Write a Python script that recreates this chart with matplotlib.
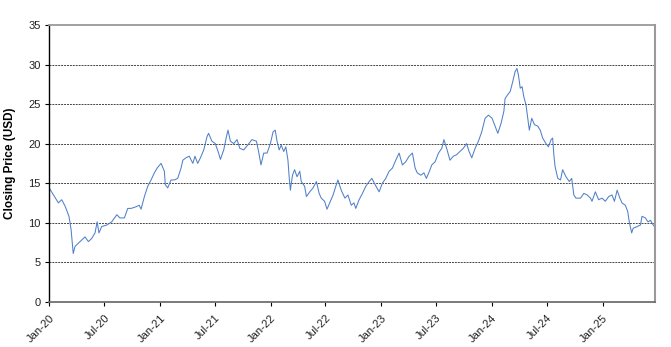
import matplotlib
matplotlib.use("Agg")
import matplotlib.pyplot as plt
import pandas as pd

plt.rcParams["font.family"] = ["Liberation Sans", "DejaVu Sans"]

dates = [
    "2020-01-02", "2020-01-31", "2020-02-11", "2020-02-22", "2020-02-27", "2020-03-06",
    "2020-03-13", "2020-03-17", "2020-03-20", "2020-03-26", "2020-04-06", "2020-04-17",
    "2020-04-28", "2020-05-09", "2020-05-20", "2020-05-31", "2020-06-07", "2020-06-13",
    "2020-06-22", "2020-07-09", "2020-07-25", "2020-08-11", "2020-08-21", "2020-09-05",
    "2020-09-16", "2020-09-27", "2020-10-13", "2020-10-24", "2020-10-30", "2020-11-10",
    "2020-11-21", "2020-12-02", "2020-12-13", "2020-12-22",
    "2021-01-04", "2021-01-15", "2021-01-18", "2021-01-26", "2021-02-06", "2021-02-17",
    "2021-02-28", "2021-03-11", "2021-03-17", "2021-03-27", "2021-04-07", "2021-04-19",
    "2021-04-26", "2021-05-05", "2021-05-14", "2021-05-25", "2021-06-05", "2021-06-10",
    "2021-06-21", "2021-07-02", "2021-07-13", "2021-07-19", "2021-07-30", "2021-08-08",
    "2021-08-13", "2021-08-21", "2021-09-01", "2021-09-12", "2021-09-21", "2021-10-04",
    "2021-10-21", "2021-10-31", "2021-11-15", "2021-11-23", "2021-11-30", "2021-12-09",
    "2021-12-20", "2021-12-31",
    "2022-01-09", "2022-01-16", "2022-01-22", "2022-01-29", "2022-02-05", "2022-02-13",
    "2022-02-20", "2022-02-27", "2022-03-03", "2022-03-07", "2022-03-14", "2022-03-21",
    "2022-03-29", "2022-04-07", "2022-04-12", "2022-04-23", "2022-04-29", "2022-05-10",
    "2022-05-21", "2022-06-01", "2022-06-10", "2022-06-17", "2022-06-28", "2022-07-06",
    "2022-07-15", "2022-07-26", "2022-08-04", "2022-08-11", "2022-08-22", "2022-09-03",
    "2022-09-13", "2022-09-24", "2022-10-03", "2022-10-09", "2022-10-20", "2022-10-31",
    "2022-11-11", "2022-11-22", "2022-12-01", "2022-12-12", "2022-12-25",
    "2023-01-05", "2023-01-16", "2023-01-27", "2023-02-07", "2023-02-18", "2023-03-01",
    "2023-03-12", "2023-03-23", "2023-04-03", "2023-04-14", "2023-04-23", "2023-04-30",
    "2023-05-12", "2023-05-22", "2023-05-30", "2023-06-08", "2023-06-17", "2023-06-28",
    "2023-07-09", "2023-07-20", "2023-07-27", "2023-08-05", "2023-08-16", "2023-08-27",
    "2023-09-07", "2023-09-18", "2023-09-29", "2023-10-10", "2023-10-18", "2023-10-27",
    "2023-11-07", "2023-11-18", "2023-11-29", "2023-12-10", "2023-12-21",
    "2024-01-02", "2024-01-10", "2024-01-21", "2024-02-01", "2024-02-10", "2024-02-14",
    "2024-02-23", "2024-03-02", "2024-03-10", "2024-03-18", "2024-03-24", "2024-03-29",
    "2024-04-04", "2024-04-10", "2024-04-16", "2024-04-23", "2024-04-29", "2024-05-04",
    "2024-05-12", "2024-05-21", "2024-06-01", "2024-06-09", "2024-06-17", "2024-06-28",
    "2024-07-06", "2024-07-15", "2024-07-20", "2024-07-24", "2024-07-28", "2024-08-06",
    "2024-08-15", "2024-08-22", "2024-09-02", "2024-09-13", "2024-09-21", "2024-09-28",
    "2024-10-05", "2024-10-20", "2024-10-31", "2024-11-11", "2024-11-22", "2024-11-27",
    "2024-12-08", "2024-12-19", "2024-12-30",
    "2025-01-10", "2025-01-21", "2025-02-01", "2025-02-09", "2025-02-18", "2025-02-27",
    "2025-03-06", "2025-03-17", "2025-03-25", "2025-03-30", "2025-04-07", "2025-04-12",
    "2025-04-25", "2025-05-06", "2025-05-11", "2025-05-22", "2025-05-31", "2025-06-08",
    "2025-06-17", "2025-06-22",
]

closing_price = [
    14.3, 12.5, 12.9, 12.1, 11.6, 10.8,
    9.1, 7.4, 6.1, 7.0, 7.4, 7.8,
    8.2, 7.6, 8.0, 8.7, 10.1, 8.7,
    9.5, 9.7, 10.1, 11.0, 10.6, 10.6,
    11.8, 11.8, 12.0, 12.2, 11.7, 13.3,
    14.6, 15.4, 16.3, 16.9,
    17.5, 16.5, 14.8, 14.4, 15.4, 15.4,
    15.6, 16.9, 17.9, 18.2, 18.4, 17.5,
    18.4, 17.5, 18.2, 19.2, 20.9, 21.3,
    20.3, 20.0, 18.8, 18.0, 19.2, 20.9,
    21.7, 20.3, 20.0, 20.5, 19.4, 19.2,
    20.0, 20.5, 20.3, 18.8, 17.3, 18.8,
    18.8, 20.0,
    21.5, 21.7, 20.3, 19.2, 19.8, 19.0,
    19.6, 17.9, 15.8, 14.1, 16.0, 16.7,
    15.8, 16.5, 15.2, 14.6, 13.3, 13.9,
    14.4, 15.2, 13.7, 13.1, 12.7, 11.7,
    12.5, 13.5, 14.6, 15.4, 14.1, 13.1,
    13.5, 12.2, 12.5, 11.8, 12.9, 13.7,
    14.6, 15.2, 15.6, 14.8, 13.9,
    15.0, 15.6, 16.5, 16.9, 17.9, 18.8,
    17.3, 17.7, 18.4, 18.8, 16.9, 16.3,
    16.0, 16.3, 15.6, 16.4, 17.3, 17.7,
    18.8, 19.4, 20.5, 19.4, 17.9, 18.4,
    18.6, 19.0, 19.4, 20.0, 19.0, 18.2,
    19.4, 20.3, 21.5, 23.2, 23.6,
    23.2, 22.4, 21.3, 22.6, 24.1, 25.7,
    26.2, 26.6, 27.8, 29.1, 29.5, 28.7,
    27.0, 27.2, 25.9, 24.9, 23.2, 21.7,
    23.2, 22.4, 22.2, 21.7, 20.7, 20.0,
    19.6, 20.5, 20.7, 18.6, 17.1, 15.6,
    15.4, 16.7, 15.8, 15.2, 15.6, 13.5,
    13.1, 13.1, 13.7, 13.5, 13.1, 12.7,
    13.9, 12.9, 13.1,
    12.7, 13.3, 13.5, 12.7, 14.1, 13.1,
    12.5, 12.2, 11.4, 10.1, 8.7, 9.3,
    9.5, 9.7, 10.8, 10.6, 10.1, 10.3,
    9.7, 9.5,
]

tick_dates = ["2020-01-01", "2020-07-01", "2021-01-01", "2021-07-01", "2022-01-01",
              "2022-07-01", "2023-01-01", "2023-07-01", "2024-01-01", "2024-07-01",
              "2025-01-01"]
tick_labels = ["Jan-20", "Jul-20", "Jan-21", "Jul-21", "Jan-22", "Jul-22",
               "Jan-23", "Jul-23", "Jan-24", "Jul-24", "Jan-25"]

x = pd.to_datetime(dates)

fig = plt.figure(figsize=(6.71, 3.47), dpi=100)
ax = fig.add_axes([49.3 / 671, 1 - 301.7 / 347, (655 - 49.3) / 671, (301.7 - 25) / 347])

ax.plot(x, closing_price, color="#5080c8", linewidth=0.75)

ax.set_xlim(pd.Timestamp("2020-01-01"), pd.Timestamp("2025-06-23"))
ax.set_ylim(0, 35)
ax.set_yticks(range(0, 36, 5))
ax.set_xticks(pd.to_datetime(tick_dates))
ax.set_xticklabels(tick_labels, rotation=45, ha="right", rotation_mode="anchor")

# dotted horizontal guides at every 5 USD below the top frame
for v in range(5, 35, 5):
    ax.axhline(v, color="#444444", linewidth=0.7, linestyle=(0, (2, 1)), zorder=0)

ax.spines["left"].set_color("black")
ax.spines["left"].set_linewidth(1.0)
ax.spines["bottom"].set_color("#707070")
ax.spines["bottom"].set_linewidth(1.3)
ax.spines["top"].set_color("#9a9a9a")
ax.spines["top"].set_linewidth(1.3)
ax.spines["right"].set_color("#9a9a9a")
ax.spines["right"].set_linewidth(1.5)

ax.tick_params(axis="both", direction="out", length=3, width=0.8, color="black",
               labelsize=8, labelcolor="#222222")
ax.tick_params(axis="y", pad=3)
ax.tick_params(axis="x", pad=5)
ax.set_ylabel("Closing Price (USD)", fontsize=8.5, fontweight="bold", labelpad=9)

fig.savefig("out.png", dpi=100)
